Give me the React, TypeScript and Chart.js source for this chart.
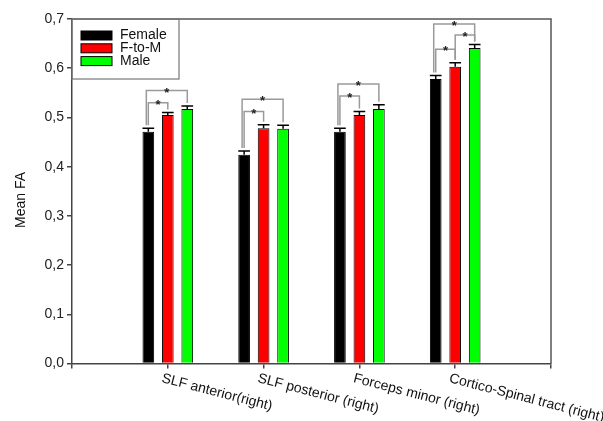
import React, { useEffect, useRef } from "react";
import { Chart, registerables } from "chart.js";

Chart.register(...registerables);

const categories = [
  "SLF anterior(right)",
  "SLF posterior (right)",
  "Forceps minor (right)",
  "Cortico-Spinal tract (right)",
];
const seriesNames = ["Female", "F-to-M", "Male"];
const seriesColors = ["#000000", "#ff0000", "#00ff00"];
const female = [0.471, 0.424, 0.471, 0.578];
const fToM = [0.505, 0.478, 0.505, 0.603];
const male = [0.517, 0.477, 0.517, 0.641];
const femaleErr = [0.007, 0.008, 0.007, 0.007];
const fToMErr = [0.005, 0.007, 0.007, 0.008];
const maleErr = [0.006, 0.007, 0.009, 0.007];
const yTickValues = [0, 0.1, 0.2, 0.3, 0.4, 0.5, 0.6, 0.7];
const yTitle = "Mean FA";

// significance brackets
const bracketCategory = [0, 0, 1, 1, 2, 2, 3, 3, 3];
const bracketFrom = [0, 0, 0, 0, 0, 0, 0, 1, 0];
const bracketTo = [1, 2, 1, 2, 1, 2, 1, 2, 2];
const bracketLevel = [0.53, 0.5545, 0.512, 0.537, 0.5437, 0.568, 0.6386, 0.6677, 0.69];
const bracketMark = "*";

const FONT = "'Liberation Sans', Arial, sans-serif";

export default function App() {
  const ref = useRef<HTMLCanvasElement | null>(null);

  useEffect(() => {
    document.body.style.margin = "0";
    const canvas = ref.current;
    if (!canvas) return;
    const values = [female, fToM, male];
    const errs = [femaleErr, fToMErr, maleErr];
    const labels = ["", ...categories, ""];

    const overlay = {
      id: "overlay",
      afterDatasetsDraw(chart: any) {
        const ctx = chart.ctx;
        const area = chart.chartArea;
        const xs = chart.scales.x;
        const ys = chart.scales.y;
        ctx.save();
        // frame top/right
        ctx.strokeStyle = "#555";
        ctx.lineWidth = 1.5;
        ctx.beginPath();
        ctx.moveTo(area.left, area.top);
        ctx.lineTo(area.right, area.top);
        ctx.lineTo(area.right, area.bottom);
        ctx.stroke();

        // error bars
        const barInfo = (d: number, i: number) => {
          const el = chart.getDatasetMeta(d).data[i + 1];
          return { x: el.x, w: el.width };
        };
        ctx.strokeStyle = "#000";
        ctx.lineWidth = 1.5;
        for (let d = 0; d < 3; d++) {
          for (let i = 0; i < categories.length; i++) {
            const { x, w } = barInfo(d, i);
            const y0 = ys.getPixelForValue(values[d][i]);
            const y1 = ys.getPixelForValue(values[d][i] + errs[d][i]);
            ctx.beginPath();
            ctx.moveTo(x, y0);
            ctx.lineTo(x, y1);
            ctx.moveTo(x - w / 2, y1);
            ctx.lineTo(x + w / 2, y1);
            ctx.stroke();
          }
        }

        // brackets
        ctx.strokeStyle = "#9a9a9a";
        ctx.lineWidth = 1.5;
        ctx.fillStyle = "#222";
        ctx.font = `bold 13px ${FONT}`;
        ctx.textAlign = "center";
        ctx.textBaseline = "alphabetic";
        for (let b = 0; b < bracketLevel.length; b++) {
          const c = bracketCategory[b];
          const f = bracketFrom[b];
          const t = bracketTo[b];
          const outer = f === 0 && t === 2;
          const xl = barInfo(f, c).x + (outer ? -2 : 0);
          const xr = barInfo(t, c).x;
          const yl = ys.getPixelForValue(values[f][c] + errs[f][c]) - 3;
          const yr = ys.getPixelForValue(values[t][c] + errs[t][c]) - 3;
          const yh = ys.getPixelForValue(bracketLevel[b]);
          ctx.beginPath();
          ctx.moveTo(xl, yl);
          ctx.lineTo(xl, yh);
          ctx.lineTo(xr, yh);
          ctx.lineTo(xr, yr);
          ctx.stroke();
          ctx.fillText(bracketMark, (xl + xr) / 2, yh + 6);
        }

        // x labels, rotated
        ctx.fillStyle = "#111";
        ctx.font = `14px ${FONT}`;
        ctx.textAlign = "left";
        ctx.textBaseline = "top";
        for (let i = 0; i < categories.length; i++) {
          const x = xs.getPixelForValue(i + 1);
          ctx.save();
          ctx.translate(x - 4, area.bottom + 8);
          ctx.rotate((14.5 * Math.PI) / 180);
          ctx.fillText(categories[i], 0, 0);
          ctx.restore();
        }

        // y title
        ctx.save();
        ctx.fillStyle = "#111";
        ctx.font = `14px ${FONT}`;
        ctx.textAlign = "center";
        ctx.textBaseline = "middle";
        ctx.translate(21, 200);
        ctx.rotate(-Math.PI / 2);
        ctx.fillText(yTitle, 0, 0);
        ctx.restore();

        // legend
        const lx = area.left;
        const ly = area.top;
        ctx.strokeStyle = "#777";
        ctx.lineWidth = 1.2;
        ctx.strokeRect(lx, ly, 107, 60);
        ctx.font = `14px ${FONT}`;
        ctx.textAlign = "left";
        ctx.textBaseline = "middle";
        for (let d = 0; d < 3; d++) {
          const sy = ly + 12 + d * 12.8;
          ctx.fillStyle = seriesColors[d];
          ctx.fillRect(lx + 9, sy, 31, 9);
          ctx.strokeStyle = "#000";
          ctx.lineWidth = 1;
          ctx.strokeRect(lx + 9, sy, 31, 9);
          ctx.fillStyle = "#111";
          ctx.fillText(seriesNames[d], lx + 48, sy + 4.5);
        }
        ctx.restore();
      },
    };

    const chart = new Chart(canvas, {
      type: "bar",
      data: {
        labels,
        datasets: values.map((v, d) => ({
          label: seriesNames[d],
          data: [null, ...v, null],
          backgroundColor: seriesColors[d],
          borderColor: "#000",
          borderWidth: 1,
          categoryPercentage: 0.61,
          barPercentage: 0.6,
        })),
      },
      options: {
        responsive: false,
        animation: false,
        layout: { padding: { left: 0, right: 52, top: 19, bottom: 0 } },
        plugins: { legend: { display: false }, tooltip: { enabled: false } },
        scales: {
          x: {
            offset: false,
            grid: {
              display: true,
              offset: false,
              drawOnChartArea: false,
              drawTicks: true,
              tickLength: 5,
              color: "#444",
              lineWidth: 1.5,
            },
            border: { display: true, color: "#444", width: 1.5 },
            ticks: { display: false },
            afterFit: (s: any) => {
              s.height = 57.5;
            },
          },
          y: {
            min: 0,
            max: 0.7,
            afterBuildTicks: (s: any) => {
              s.ticks = yTickValues.map((v) => ({ value: v }));
            },
            grid: {
              display: true,
              drawOnChartArea: false,
              drawTicks: true,
              tickLength: 5,
              color: "#444",
              lineWidth: 1.5,
            },
            border: { display: true, color: "#444", width: 1.5 },
            ticks: {
              color: "#222",
              padding: 3,
              font: { family: FONT, size: 14 },
              callback: (v: any) => Number(v).toFixed(1).replace(".", ","),
            },
            afterFit: (s: any) => {
              s.width = 72;
            },
          },
        },
      },
      plugins: [overlay],
    });
    return () => chart.destroy();
  }, []);

  return <canvas ref={ref} width={603} height={421} style={{ display: "block" }} />;
}
